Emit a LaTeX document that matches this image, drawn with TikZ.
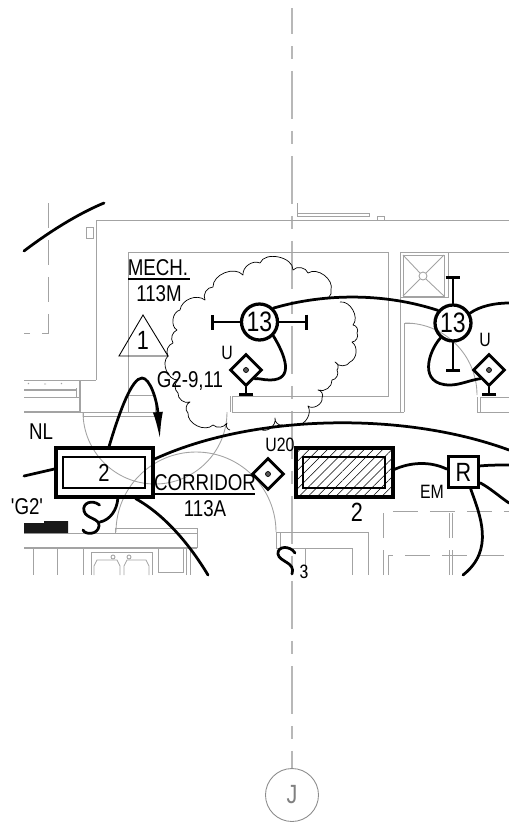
\documentclass[tikz,border=0pt]{standalone}
\usepackage{fontspec}
\setmainfont[FakeStretch=0.82]{Liberation Sans}
\newfontfamily\plainfont[FakeStretch=0.82]{Liberation Sans}
\usetikzlibrary{positioning,arrows.meta,shapes.geometric,patterns.meta}
\tikzset{
	wall/.style={draw=black!36,line width=.5pt},
	griddash/.style={wall,dash pattern=on .5cm off .24cm},
	axisline/.style={draw=black!28,line width=.8pt,dash pattern=on .96cm off .24cm on .26cm off .24cm,dash phase=.44cm},
	wire/.style={draw=black,line width=.055cm,line cap=round},
	stub/.style={wire,-{Bar[width=.3cm]}},
	cloudline/.style={draw=black,line width=.4pt,line join=round},
	lumcircle/.style={circle,draw,line width=.065cm,minimum size=.72cm,inner sep=0pt,font=\fontsize{16}{16}\selectfont},
	fixouter/.style={rectangle,draw,line width=.065cm,minimum width=1.94cm,minimum height=.98cm,inner sep=0pt},
	fixinner/.style={rectangle,draw,line width=.058cm,minimum width=1.64cm,minimum height=.62cm,inner sep=0pt,font=\fontsize{14}{14}\selectfont},
	sensor/.style={diamond,draw,line width=.055cm,minimum size=.64cm,inner sep=0pt},
	sensordot/.style={circle,draw,fill=black!65,line width=.4pt,minimum size=.1cm,inner sep=0pt},
	lbl/.style={inner sep=0pt,font=\fontsize{13}{13}\selectfont},
	smalllbl/.style={inner sep=0pt,font=\fontsize{11}{11}\selectfont},
}
\begin{document}
\begin{tikzpicture}[x=.02cm,y=-.02cm]
	\useasboundingbox (0,0) rectangle (509,823);

	\node[circle,draw=black!45,line width=.5pt,minimum size=1.06cm,inner sep=0pt,text=black!50,font=\fontsize{15}{15}\selectfont] (JJ) at (292,795) {J};
	\coordinate (AT) at (292,8);
	\draw[axisline] (AT) -- (JJ.north);

	\draw[wall] (96,380) -- (96,220) -- (509,220);
	\draw[wall] (86,227) rectangle (93,238);
	\draw[wall] (297,203) -- (297,213) -- (369,213) -- (369,216) -- (297,216) -- (297,213);
	\draw[wall] (377,220) -- (377,216) -- (384,216) -- (384,220);
	\draw[griddash] (48,203) -- (48,333) -- (24,333);
	\draw[wall] (24,380) -- (96,380);
	\draw[wall] (28,384) -- (29,383) (44,384) -- (46,384) (61,384) -- (62,383);
	\draw[wall,line width=1.1pt] (24,390) -- (76,390);
	\draw[wall] (24,397) -- (80,397) (76,388) -- (76,397);
	\draw[wall,line width=.9pt] (24,412) -- (80,412) (80,380) -- (80,412);
	\draw[wall] (80,412) -- (155,412) -- (155,395) -- (128,395) (83,412) -- (83,418) (83,416) -- (155,416);
	\draw[wall] (128,412) -- (128,252) -- (388,252) -- (388,396) -- (232,396) -- (232,412) -- (404,412) (230,396) -- (230,412);
	\draw[wall] (400,412) -- (400,252) -- (509,252) (404,412) -- (404,323) -- (412,323);
	\draw[wall] (400,252) rectangle (448,297);
	\draw[wall] (403,255) rectangle (444,296);
	\draw[wall] (403,255) -- (420,273) (444,255) -- (426,273) (403,296) -- (420,279) (444,296) -- (426,279);
	\draw[wall] (423,276) circle (4);
	\draw[wall] (477,397) -- (477,412) -- (480,412) -- (480,397) -- (509,397) (480,412) -- (509,412);
	\draw[wall] (83,412) arc[start angle=180,end angle=0,radius=72];
	\draw[wall] (116,532) arc[start angle=180,end angle=360,radius=80];
	\draw[wall] (405,323) arc[start angle=-90,end angle=0,radius=72];

	\draw[wall] (24,533) -- (197,533) -- (197,548) (115,528) -- (197,528) -- (197,533) (115,528) -- (115,533);
	\draw[wall,line width=.9pt] (24,548) -- (197,548);
	\draw[wall] (33,548) -- (33,575) (57,548) -- (57,575) (83,548) -- (83,575) (186,548) -- (186,575) (190,548) -- (190,575);
	\draw[wall] (91,575) -- (91,552) -- (152,552) -- (152,575);
	\draw[wall] (94,575) -- (94,566) -- (97,560) -- (117,560) -- (120,566) -- (120,575) (124,575) -- (124,566) -- (127,560) -- (146,560) -- (149,566) -- (149,575);
	\draw[wall] (113,557) circle (2) (129,557) circle (2);
	\draw[wall] (158,548) rectangle (183,572);
	\draw[wall] (276,548) -- (276,532) -- (368,532) -- (368,575) (280,532) -- (280,548) -- (276,548) (280,548) -- (352,548) -- (352,575) (305,548) -- (305,575);
	\draw[griddash] (383,575) -- (383,511) -- (509,511);
	\draw[griddash] (449,575) -- (449,511) (452,575) -- (452,511);
	\draw[griddash] (388,575) -- (388,555) -- (509,555);

	\node[lumcircle] (LA) at (259.5,322) {13};
	\node[lumcircle] (LB) at (453,323) {13};
	\node[fixouter] (FA) at (104.5,472.5) {};
	\node[fixinner] (FI) at (104,472.5) {2};
	\node[fixouter,pattern={Lines[angle=45,distance=3.7pt,line width=.3pt]}] (FB) at (344.5,472.5) {};
	\node[fixinner] (FJ) at (344,472.5) {};
	\node[rectangle,draw,fill=white,line width=.06cm,minimum size=.61cm,inner sep=0pt,font=\fontsize{15}{15}\selectfont] (RR) at (463.5,472) {R};
	\node[sensor] (DA) at (246,370) {};
	\node[sensor] (DB) at (489,370) {};
	\node[sensor] (DC) at (268,474) {};
	\node[sensordot] at (DA) {};
	\node[sensordot] at (DB) {};
	\node[sensordot] at (DC) {};

	\coordinate (BA) at (211,322);
	\coordinate (BB) at (308,322);
	\coordinate (BC) at (453,276);
	\coordinate (BD) at (453,372);
	\coordinate (BE) at (246,396);
	\coordinate (BF) at (489,396);
	\draw[stub] (LA.west) -- (BA);
	\draw[stub] (LA.east) -- (BB);
	\draw[stub] (LB.north) -- (BC);
	\draw[stub] (LB.south) -- (BD);
	\draw[stub] (DA.south) -- (BE);
	\draw[stub] (DB.south) -- (BF);

	\coordinate (TL) at (24,251);
	\coordinate (TR) at (104,203);
	\coordinate (WL) at (24,476);
	\coordinate (WR) at (509,450);
	\coordinate (WS) at (509,303);
	\coordinate (WA) at (509,465);
	\coordinate (WB) at (509,503);
	\coordinate (WC) at (463,575);
	\coordinate (WD) at (208,575);
	\coordinate (AH) at (160,440);
	\coordinate (SA) at (100,522);

	\draw[wire] (TL) .. controls (45,235) and (75,215) .. (TR);
	\draw[wire] (LA.45) .. controls (325,293) and (385,293) .. (LB.140);
	\draw[wire] (LB.30) .. controls (480,306) and (495,303) .. (WS);
	\draw[wire] (LA.-45) .. controls (285,355) and (295,380) .. (270,380) .. controls (263,380) and (258,378) .. (DA.south east);
	\draw[wire] (LB.-130) .. controls (428,352) and (418,385) .. (450,385) .. controls (460,385) and (470,380) .. (DB.south west);
	\draw[wire] (WL) -- (FA.176);
	\draw[wire] (FA.15) .. controls (250,415) and (400,410) .. (WR);
	\draw[wire,-{Latex[length=.56cm,width=.2cm]}] (FA.80) .. controls (120,410) and (132,378) .. (142,378) .. controls (150,378) and (157,400) .. (AH);
	\draw[wire] (FA.-40) .. controls (165,515) and (190,545) .. (WD);
	\draw[wire] (FA.-63) .. controls (117,510) and (110,520) .. (SA);
	\draw[wire] (99.5,505) .. controls (92,499) and (82,503) .. (84,511) .. controls (86,519) and (100,518) .. (99,526) .. controls (98,535) and (85,535) .. (83,530);
	\draw[wire] (295,553) .. controls (290,545) and (277,546) .. (278,554) .. controls (279,562) and (296,562) .. (292,574);
	\draw[wire] (FB.3) .. controls (410,462) and (430,461) .. (RR.170);
	\draw[wire] (RR.20) .. controls (490,465) and (500,465) .. (WA);
	\draw[wire] (RR.-33) .. controls (490,488) and (500,497) .. (WB);
	\draw[wire] (RR.-67) .. controls (480,515) and (495,550) .. (WC);

	\draw[cloudline] (168,356) to[bend left=50] (173,343) to[bend left=50] (177,330) to[bend left=70] (180,310) to[bend left=60] (205,300) to[bend left=60] (213,287) to[bend left=70] (243,275) to[bend left=60] (260,263) to[bend left=80] (293,270) to[bend left=60] (308,273) to[bend left=70] (331,290) to[bend left=30] (329,297);
	\draw[cloudline] (340,302) to[bend left=70] (353,325) to[bend left=60] (357,333) to[bend left=60] (352,342) to[bend left=60] (350,362) to[bend left=60] (335,362) to[bend left=60] (337,370) to[bend left=60] (332,380) to[bend left=60] (318,390) to[bend left=60] (322,398) to[bend left=70] (308,406) to[bend left=60] (297,425);
	\draw[cloudline] (283,425) to[bend left=60] (275,418) to[bend left=60] (262,430);
	\draw[cloudline] (230,430) to[bend left=60] (227,423) to[bend left=50] (213,425) to[bend left=70] (188,413) to[bend left=60] (190,402) to[bend left=60] (178,393) to[bend left=50] (178,380) to[bend left=70] (168,356);

	\draw[line width=.5pt] (143,315) -- (119,356) -- (168,356) -- cycle;
	\draw[line width=.6pt] (128,279) -- (190,279);
	\draw[line width=.6pt] (155,494) -- (255,494);
	\fill[black!90] (24,523) rectangle (44,533) (44,521) rectangle (68,533);

	\node[lbl] (MM) at (158,268) {MECH.};
	\node[lbl] (MN) at (159,294) {113M};
	\node[lbl,font=\fontsize{15}{15}\selectfont] (TT) at (143,340) {1};
	\node[lbl] (GG) at (190,381) {G2-9,11};
	\node[lbl] (NL) at (41,432) {NL};
	\node[lbl] (QG) at (27,507) {\plainfont 'G2'};
	\node[lbl] (CR) at (205,483) {CORRIDOR};
	\node[lbl] (CN) at (205,509) {113A};
	\node[lbl,font=\fontsize{15}{15}\selectfont] (NB) at (357,512) {2};
	\node[smalllbl] (UA) at (227,353) {U};
	\node[smalllbl] (UB) at (485,340) {U};
	\node[smalllbl] (UC) at (280,445) {U20};
	\node[smalllbl] (EM) at (432,492) {EM};
	\node[smalllbl] (SN) at (304,572) {3};
\end{tikzpicture}
\end{document}
